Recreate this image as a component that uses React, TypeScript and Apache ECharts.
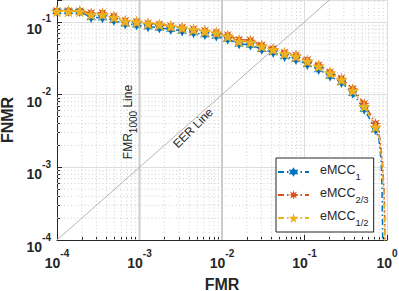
import React, { useEffect, useRef } from 'react';
import * as echarts from 'echarts';

// FMR sample points carrying markers (log-spaced thresholds)
const FMR = [
  1.0e-4, 1.374e-4, 1.888e-4, 2.593e-4, 3.562e-4, 4.894e-4, 6.723e-4, 9.237e-4,
  1.269e-3, 1.743e-3, 2.395e-3, 3.29e-3, 4.52e-3, 6.21e-3, 8.532e-3, 1.172e-2,
  1.61e-2, 2.212e-2, 3.039e-2, 4.175e-2, 5.736e-2, 7.88e-2, 0.1083, 0.1487,
  0.2043, 0.2807, 0.3857, 0.5298, 0.7279,
];
const FNMR_1 = [
  0.14, 0.14, 0.139, 0.115, 0.114, 0.105, 0.094, 0.091, 0.086, 0.083, 0.079,
  0.075, 0.071, 0.067, 0.064, 0.058, 0.05, 0.048, 0.042, 0.038, 0.0335, 0.0305,
  0.026, 0.0222, 0.018, 0.0147, 0.0104, 0.0063, 0.0033,
];
const FNMR_23 = [
  0.142, 0.142, 0.141, 0.133, 0.133, 0.12, 0.104, 0.101, 0.096, 0.093, 0.088,
  0.084, 0.08, 0.076, 0.072, 0.066, 0.057, 0.056, 0.048, 0.043, 0.038, 0.035,
  0.03, 0.0255, 0.0205, 0.0168, 0.012, 0.0075, 0.004,
];
const FNMR_12 = [
  0.14, 0.14, 0.14, 0.126, 0.126, 0.115, 0.102, 0.1, 0.0948, 0.0918, 0.087,
  0.0827, 0.0783, 0.0743, 0.0706, 0.0633, 0.0541, 0.0524, 0.0461, 0.0415,
  0.0366, 0.0336, 0.0287, 0.0245, 0.0198, 0.016, 0.0113, 0.00688, 0.00358,
];
// steep tails near FMR -> 1 (no markers)
const TAIL_X_1 = [0.8, 0.85, 0.87, 0.88, 0.887];
const TAIL_Y_1 = [0.0024, 0.0012, 0.0005, 0.0002, 0.00009];
const TAIL_X_23 = [0.82, 0.88, 0.92, 0.94, 0.946];
const TAIL_Y_23 = [0.0025, 0.0012, 0.0005, 0.0002, 0.00009];
const TAIL_X_12 = [0.81, 0.87, 0.91, 0.935, 0.94];
const TAIL_Y_12 = [0.0025, 0.0012, 0.0005, 0.0002, 0.00009];

const NAMES = ['eMCC_1', 'eMCC_2/3', 'eMCC_1/2'];
const X_RANGE = [1e-4, 1];
const Y_RANGE = [1e-4, 0.2];
const DECADES = [1e-4, 1e-3, 1e-2, 1e-1];
const MINOR_MULT = [2, 3, 4, 5, 6, 7, 8, 9];
const FMR_LINES = [1e-3, 1e-2];

const FONT = "'Liberation Sans', Arial, Helvetica, sans-serif";

function starPath(n: number, inner: number): string {
  const pts: string[] = [];
  for (let i = 0; i < 2 * n; i++) {
    const a = -Math.PI / 2 + (i * Math.PI) / n;
    const r = i % 2 ? inner : 1;
    pts.push(`${(50 + 50 * r * Math.cos(a)).toFixed(2)} ${(50 + 50 * r * Math.sin(a)).toFixed(2)}`);
  }
  return 'path://M' + pts.join(' L') + ' Z';
}

function build(y: number[], tx: number[], ty: number[]) {
  const main: any[] = FMR.map((x, i) => [x, y[i]]);
  const tail = tx.map((x, i) => ({ value: [x, ty[i]], symbol: 'none' }));
  return main.concat(tail);
}

const powLabel = (v: number) => {
  const e = Math.log10(v);
  if (Math.abs(e - Math.round(e)) > 1e-6) return '';
  return `{b|10}{s|${Math.round(e)}}`;
};
const labelRich = {
  b: { fontSize: 14, fontWeight: 'bold', fontFamily: FONT, color: '#262626', lineHeight: 22, verticalAlign: 'bottom' },
  s: { fontSize: 10, fontWeight: 'bold', fontFamily: FONT, color: '#262626', lineHeight: 8, verticalAlign: 'top' },
};

const MINOR_STYLE = { stroke: '#cfcfcf', lineWidth: 1, lineDash: [1, 2.5] };

export default function App() {
  const ref = useRef<HTMLDivElement>(null);
  useEffect(() => {
    const chart = echarts.init(ref.current!, null, { renderer: 'svg' });
    const minorVals: number[] = [];
    DECADES.forEach((d) => MINOR_MULT.forEach((m) => minorVals.push(m * d)));
    const vMinor = minorVals.filter((v) => v < X_RANGE[1]).map((v) => [v, Y_RANGE[0]]);
    const hMinor = minorVals.filter((v) => v < Y_RANGE[1]).map((v) => [X_RANGE[0], v]);
    const dash = [6, 3, 1.5, 3];
    const common = {
      type: 'line',
      clip: true,
      symbolKeepAspect: true,
      lineStyle: { width: 1.5, type: dash },
      z: 3,
    };
    const option: any = {
      animation: false,
      textStyle: { fontFamily: FONT },
      grid: { left: 57, right: 12, top: 0, height: 240, outerBoundsMode: 'none', containLabel: false },
      xAxis: {
        type: 'log',
        logBase: 10,
        min: X_RANGE[0],
        max: X_RANGE[1],
        axisLine: { show: true, lineStyle: { color: '#262626', width: 1 } },
        axisTick: { inside: true, length: 5, lineStyle: { color: '#262626' } },
        minorTick: { show: true, splitNumber: 9, length: 3, lineStyle: { color: '#262626' } },
        splitLine: { show: true, lineStyle: { color: '#dedede', width: 1 } },
        axisLabel: { formatter: powLabel, rich: labelRich, margin: 8 },
        name: 'FMR',
        nameLocation: 'middle',
        nameGap: 36,
        nameTextStyle: { fontSize: 16, fontWeight: 'bold', color: '#262626', fontFamily: FONT },
      },
      yAxis: {
        type: 'log',
        logBase: 10,
        min: Y_RANGE[0],
        max: Y_RANGE[1],
        axisLine: { show: true, lineStyle: { color: '#262626', width: 1 } },
        axisTick: { inside: true, length: 5, lineStyle: { color: '#262626' } },
        minorTick: { show: true, splitNumber: 9, length: 3, lineStyle: { color: '#262626' } },
        splitLine: { show: true, lineStyle: { color: '#dedede', width: 1 } },
        axisLabel: { formatter: powLabel, rich: labelRich, margin: 6, padding: [6, 0, 0, 0] },
        name: 'FNMR',
        nameLocation: 'middle',
        nameGap: 42,
        nameTextStyle: { fontSize: 16, fontWeight: 'bold', color: '#262626', fontFamily: FONT },
      },
      legend: {
        orient: 'vertical',
        left: 276,
        top: 158,
        padding: [5, 5, 5, 1],
        itemGap: 5,
        itemWidth: 31,
        itemHeight: 12,
        backgroundColor: '#ffffff',
        borderColor: '#262626',
        borderWidth: 1,
        borderRadius: 0,
        data: NAMES,
        formatter: (n: string) => {
          const [a, b] = n.split('_');
          return `{a|${a}}{s|${b}}`;
        },
        textStyle: {
          padding: [0, 0, 0, 6],
          rich: {
            a: { fontSize: 12.5, fontFamily: FONT, color: '#262626', lineHeight: 18, verticalAlign: 'top' },
            s: { fontSize: 9.5, fontFamily: FONT, color: '#262626', lineHeight: 10, verticalAlign: 'bottom' },
          },
        },
      },
      graphic: [
        {
          type: 'text',
          x: 130,
          y: 122,
          rotation: Math.PI / 2,
          style: {
            text: '{a|FMR}{s|1000}{a| Line}',
            align: 'center',
            verticalAlign: 'middle',
            rich: {
              a: { fontSize: 12, fontFamily: FONT, fill: '#262626', lineHeight: 16, verticalAlign: 'top' },
              s: { fontSize: 10, fontFamily: FONT, fill: '#262626', lineHeight: 10, verticalAlign: 'bottom' },
            },
          },
          z: 10,
        },
        {
          type: 'text',
          x: 193,
          y: 128,
          rotation: Math.PI / 4,
          style: {
            text: 'EER Line',
            align: 'center',
            verticalAlign: 'middle',
            fontSize: 12,
            fontFamily: FONT,
            fill: '#262626',
          },
          z: 10,
        },
      ],
      series: [
        {
          type: 'custom',
          silent: true,
          clip: true,
          z: 1,
          data: vMinor,
          renderItem: (_p: any, api: any) => {
            const a = api.coord([api.value(0), Y_RANGE[0]]);
            const b = api.coord([api.value(0), Y_RANGE[1]]);
            return { type: 'line', shape: { x1: a[0], y1: a[1], x2: b[0], y2: b[1] }, style: MINOR_STYLE };
          },
        },
        {
          type: 'custom',
          silent: true,
          clip: true,
          z: 1,
          data: hMinor,
          renderItem: (_p: any, api: any) => {
            const a = api.coord([X_RANGE[0], api.value(1)]);
            const b = api.coord([X_RANGE[1], api.value(1)]);
            return { type: 'line', shape: { x1: a[0], y1: a[1], x2: b[0], y2: b[1] }, style: MINOR_STYLE };
          },
        },
        ...FMR_LINES.map((v) => ({
          type: 'line',
          silent: true,
          clip: true,
          symbol: 'none',
          z: 2,
          data: [
            [v, Y_RANGE[0]],
            [v, Y_RANGE[1]],
          ],
          lineStyle: { color: '#cccccc', width: 2 },
        })),
        {
          name: 'EER',
          type: 'line',
          clip: true,
          symbol: 'none',
          silent: true,
          data: [
            [X_RANGE[0], X_RANGE[0]],
            [X_RANGE[1], X_RANGE[1]],
          ],
          lineStyle: { color: '#b5b5b5', width: 1 },
          z: 2,
        },
        {
          ...common,
          name: NAMES[0],
          data: build(FNMR_1, TAIL_X_1, TAIL_Y_1),
          color: '#0072BD',
          symbol: starPath(6, 0.55),
          symbolSize: 11,
        },
        {
          ...common,
          name: NAMES[1],
          data: build(FNMR_23, TAIL_X_23, TAIL_Y_23),
          color: '#D95319',
          symbol: starPath(8, 0.45),
          symbolSize: 11,
        },
        {
          ...common,
          name: NAMES[2],
          data: build(FNMR_12, TAIL_X_12, TAIL_Y_12),
          color: '#EDB120',
          symbol: starPath(5, 0.4),
          symbolSize: 13,
        },
      ],
    };
    chart.setOption(option);
    return () => chart.dispose();
  }, []);
  return <div ref={ref} style={{ position: 'absolute', left: 0, top: 0, width: 399, height: 291 }} />;
}
